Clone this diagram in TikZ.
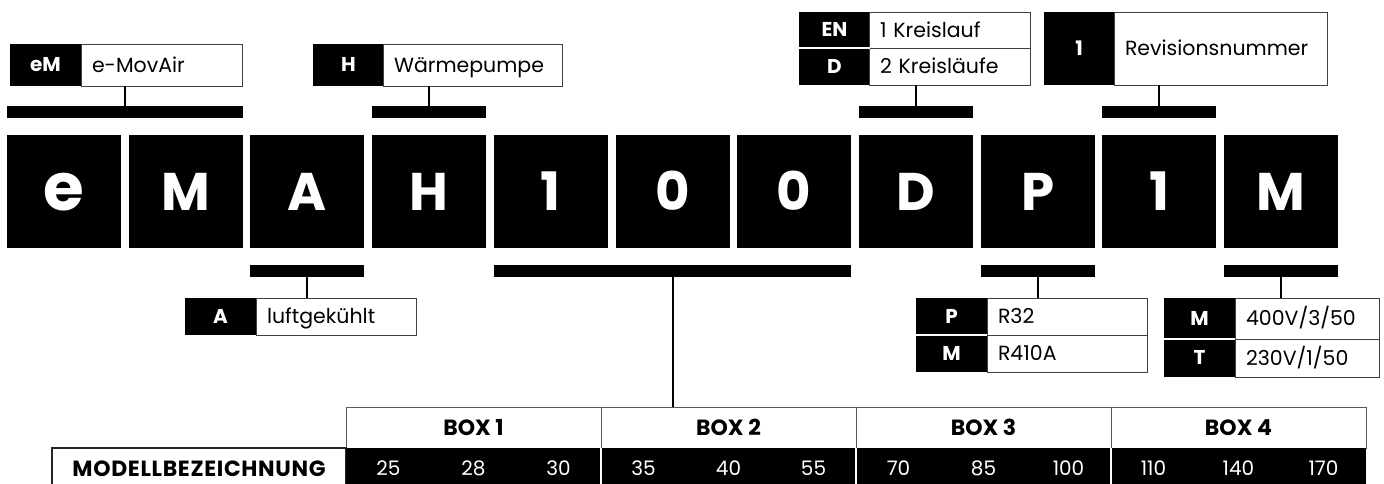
\documentclass[tikz,border=0pt]{standalone}
\usepackage{fontspec}
\setmainfont{Poppins}
\begin{document}
\begin{tikzpicture}[x=1pt,y=-1pt,
  big/.style={fill=black, text=white, minimum width=114pt, minimum height=113pt, inner sep=0pt, outer sep=0pt, anchor=north west, font=\bfseries\fontsize{53}{53}\selectfont, text height=37pt, text depth=0pt},
  bar/.style={fill=black, minimum height=12pt, inner sep=0pt, outer sep=0pt, anchor=north west},
  key/.style={fill=black, text=white, inner sep=0pt, outer sep=0pt, anchor=north west, minimum width=71pt, font=\bfseries\fontsize{20}{20}\selectfont, text height=13.5pt, text depth=0pt},
  val/.style={fill=white, draw=black!75, line width=1pt, inner xsep=11pt, inner ysep=0pt, outer sep=0pt, anchor=north west, align=left, font=\fontsize{20.5}{20.5}\selectfont, text height=14pt, text depth=0pt},
  conn/.style={line width=2pt},
  sep/.style={white, line width=1.5pt},
  hdr/.style={fill=white, draw=black!65, line width=1pt, minimum width=255pt, minimum height=41pt, inner sep=0pt, outer sep=0pt, anchor=north west, font=\bfseries\fontsize{22}{22}\selectfont, text height=15pt, text depth=0pt},
  dat/.style={fill=black, text=white, minimum width=85pt, minimum height=41pt, inner sep=0pt, outer sep=0pt, anchor=north west, font=\fontsize{20}{20}\selectfont, text height=14pt, text depth=0pt},
  modc/.style={fill=white, draw=black!85, line width=1.5pt, minimum width=294pt, minimum height=41pt, inner sep=0pt, outer sep=0pt, anchor=north west, font=\bfseries\fontsize{22}{22}\selectfont\addfontfeature{LetterSpace=3}, text height=15pt, text depth=0pt}
]
\useasboundingbox (0,0) rectangle (1384,483);
\fill[white] (0,0) rectangle (1384,483);

% big code boxes
\node[big] (b0) at (7,135) {\fontsize{66}{66}\selectfont e};
\node[big] (b1) at (128.7,135) {M};
\node[big] (b2) at (250.4,135) {A};
\node[big] (b3) at (372.1,135) {H};
\node[big] (b4) at (493.8,135) {1};
\node[big] (b5) at (615.5,135) {0};
\node[big] (b6) at (737.2,135) {0};
\node[big] (b7) at (858.9,135) {D};
\node[big] (b8) at (980.6,135) {P};
\node[big] (b9) at (1102.3,135) {1};
\node[big] (b10) at (1224,135) {M};

% upper bars
\node[bar, minimum width=235.7pt] (barEM) at (7,106) {};
\node[bar, minimum width=114pt] (barH) at (372.1,106) {};
\node[bar, minimum width=114pt] (barD) at (858.9,106) {};
\node[bar, minimum width=114pt] (barR) at (1102.3,106) {};
% lower bars
\node[bar, minimum width=114pt] (barA) at (250.4,265) {};
\node[bar, minimum width=357.4pt] (barN) at (493.8,265) {};
\node[bar, minimum width=114pt] (barP) at (980.6,265) {};
\node[bar, minimum width=114pt] (barM) at (1224,265) {};

% upper labels
\node[key, minimum height=42pt] (eMk) at (10,44) {eM};
\node[val, minimum height=42pt, text width=139pt] (eMv) at (81,44) {e-MovAir};
\node[key, minimum height=42pt] (Hk) at (313,44) {H};
\node[val, minimum height=42pt, text width=157pt] (Hv) at (383,44) {Wärmepumpe};
\node[key, minimum height=36pt] (ENk) at (799,12) {EN};
\node[key, minimum height=37pt] (Dk) at (799,48) {D};
\node[val, minimum height=36pt, text width=139pt] (ENv) at (869,12) {1 Kreislauf};
\node[val, minimum height=37pt, text width=139pt] (Dv) at (869,48) {2 Kreisläufe};
\draw[sep] (ENk.south west) -- (ENk.south east);
\node[key, minimum height=73pt, minimum width=70pt] (Rk) at (1044,12) {1};
\node[val, minimum height=73pt, text width=191pt] (Rv) at (1114,12) {Revisionsnummer};

% lower labels
\node[key, minimum height=37pt] (Ak) at (185,298) {A};
\node[val, minimum height=37pt, text width=138pt] (Av) at (256,298) {luftgekühlt};
\node[key, minimum height=37pt] (Pk) at (916,298) {P};
\node[key, minimum height=37pt] (PMk) at (916,335) {M};
\node[val, minimum height=37pt, text width=138pt] (Pv) at (987,298) {R32};
\node[val, minimum height=37pt, text width=138pt] (PMv) at (987,335) {R410A};
\draw[sep] (Pk.south west) -- (Pk.south east);
\node[key, minimum height=41pt] (Mk) at (1164,298) {M};
\node[key, minimum height=38pt] (Tk) at (1164,339) {T};
\node[val, minimum height=41pt, text width=122pt] (Mv) at (1235,298) {400V/3/50};
\node[val, minimum height=38pt, text width=122pt] (Tv) at (1235,339) {230V/1/50};
\draw[sep] (Mk.south west) -- (Mk.south east);

% table
\node[hdr] (h1) at (346,407) {BOX 1};
\node[hdr] (h2) at (601,407) {BOX 2};
\node[hdr] (h3) at (856,407) {BOX 3};
\node[hdr] (h4) at (1111,407) {BOX 4};
\node[modc] (mb) at (52,448) {MODELLBEZEICHNUNG};
\node[dat] (d1) at (346,448) {25};
\node[dat] (d2) at (431,448) {28};
\node[dat] (d3) at (516,448) {30};
\node[dat] (d4) at (601,448) {35};
\node[dat] (d5) at (686,448) {40};
\node[dat] (d6) at (771,448) {55};
\node[dat] (d7) at (856,448) {70};
\node[dat] (d8) at (941,448) {85};
\node[dat] (d9) at (1026,448) {100};
\node[dat] (d10) at (1111,448) {110};
\node[dat] (d11) at (1196,448) {140};
\node[dat] (d12) at (1281,448) {170};
\draw[sep] (d3.north east) -- (d3.south east);
\draw[sep] (d6.north east) -- (d6.south east);
\draw[sep] (d9.north east) -- (d9.south east);

% connectors
\draw[conn] (barEM.north) -- (barEM.north |- eMk.south);
\draw[conn] (barH.north) -- (barH.north |- Hk.south);
\draw[conn] (barD.north) -- (barD.north |- Dk.south);
\draw[conn] (barR.north) -- (barR.north |- Rk.south);
\draw[conn] (barA.south) -- (barA.south |- Ak.north);
\draw[conn] (barP.south) -- (barP.south |- Pk.north);
\draw[conn] (barM.south) -- (barM.south |- Mk.north);
\draw[conn] (barN.south) -- (barN.south |- h2.north);
\end{tikzpicture}
\end{document}
